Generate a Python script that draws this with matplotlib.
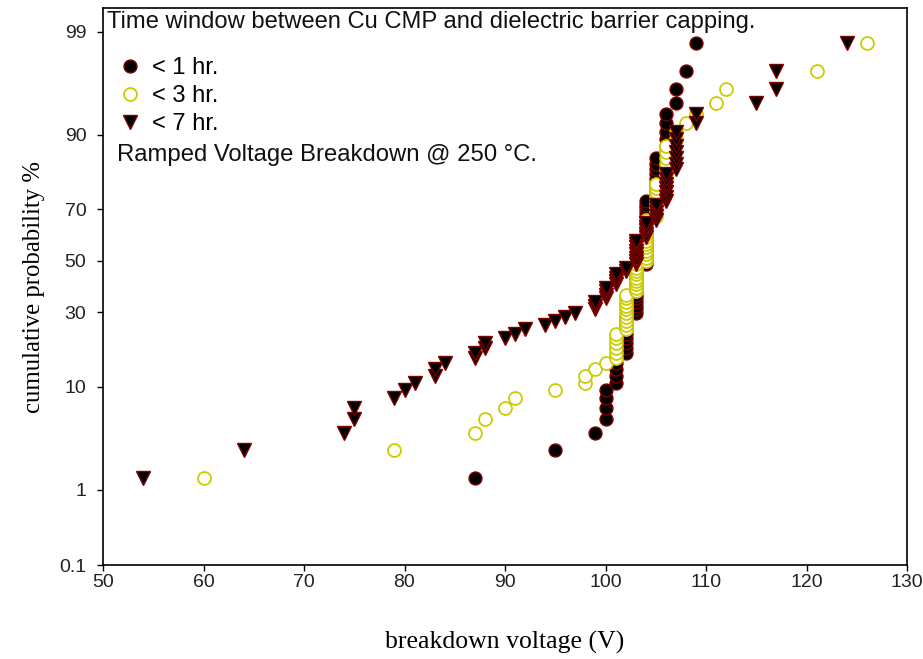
import math
import numpy as np
import matplotlib
matplotlib.use("Agg")
import matplotlib.pyplot as plt
from matplotlib.ticker import FixedLocator, FixedFormatter, NullLocator

# ---------------- data (breakdown voltages, V) ----------------
v_1hr = [87, 95, 99,
         100, 100, 100, 100,
         101, 101, 101, 101, 101,
         102, 102, 102, 102, 102, 102, 102, 102, 102,
         103, 103, 103, 103, 103, 103, 103, 103, 103, 103, 103, 103, 103, 103,
         104, 104, 104, 104, 104, 104, 104, 104, 104, 104, 104, 104, 104, 104, 104, 104, 104, 104, 104,
         105, 105, 105, 105, 105, 105, 105, 105, 105,
         106, 106, 106, 106, 106, 106,
         107, 107, 108, 109]
v_3hr = [60, 79, 87, 88, 90, 91, 95, 98, 98, 99, 100,
         101, 101, 101, 101, 101, 101,
         102, 102, 102, 102, 102, 102, 102, 102, 102, 102,
         103, 103, 103, 103, 103, 103, 103, 103, 103,
         104, 104, 104, 104, 104, 104, 104, 104, 104, 104, 104, 104, 104,
         105, 105, 105, 105, 105, 105, 105, 105, 105,
         106, 106, 106, 106, 106, 106, 106,
         107, 107, 108, 109, 111, 112, 121, 126]
v_7hr = [54, 64, 74, 75, 75, 79, 80, 81, 83, 83, 84, 87, 87, 88, 88, 90, 91, 92, 94, 95, 96, 97,
         99, 99, 99,
         100, 100, 100, 100,
         101, 101, 101, 101,
         102, 102,
         103, 103, 103, 103, 103, 103, 103, 103,
         104, 104, 104, 104, 104,
         105, 105, 105, 105, 105,
         106, 106, 106, 106, 106, 106, 106,
         107, 107, 107, 107, 107, 107, 107,
         109, 109, 115, 117, 117, 124]
labels = ["< 1 hr.", "< 3 hr.", "< 7 hr."]
x_ticks = [50, 60, 70, 80, 90, 100, 110, 120, 130]
y_ticks = [0.1, 1, 10, 30, 50, 70, 90, 99]
y_tick_labels = ["0.1", "1", "10", "30", "50", "70", "90", "99"]


# ---------------- normal-probability scale ----------------
def _ppf_scalar(q):
    q = min(max(q, 1e-12), 1 - 1e-12)
    a = [-3.969683028665376e+01, 2.209460984245205e+02, -2.759285104469687e+02,
         1.383577518672690e+02, -3.066479806614716e+01, 2.506628277459239e+00]
    b = [-5.447609879822406e+01, 1.615858368580409e+02, -1.556989798598866e+02,
         6.680131188771972e+01, -1.328068155288572e+01]
    c = [-7.784894002430293e-03, -3.223964580411365e-01, -2.400758277161838e+00,
         -2.549732539343734e+00, 4.374664141464968e+00, 2.938163982698783e+00]
    d = [7.784695709041462e-03, 3.224671290700398e-01, 2.445134137142996e+00,
         3.754408661907416e+00]
    plow = 0.02425
    if q < plow:
        t = math.sqrt(-2 * math.log(q))
        x = (((((c[0]*t + c[1])*t + c[2])*t + c[3])*t + c[4])*t + c[5]) / \
            ((((d[0]*t + d[1])*t + d[2])*t + d[3])*t + 1)
    elif q > 1 - plow:
        t = math.sqrt(-2 * math.log(1 - q))
        x = -(((((c[0]*t + c[1])*t + c[2])*t + c[3])*t + c[4])*t + c[5]) / \
            ((((d[0]*t + d[1])*t + d[2])*t + d[3])*t + 1)
    else:
        r = q - 0.5
        s = r * r
        x = (((((a[0]*s + a[1])*s + a[2])*s + a[3])*s + a[4])*s + a[5]) * r / \
            (((((b[0]*s + b[1])*s + b[2])*s + b[3])*s + b[4])*s + 1)
    # one Newton refinement
    e = 0.5 * math.erfc(-x / math.sqrt(2)) - q
    u = e * math.sqrt(2 * math.pi) * math.exp(x * x / 2)
    x = x - u / (1 + x * u / 2)
    return x


_ppf_vec = np.vectorize(_ppf_scalar, otypes=[float])
_cdf_vec = np.vectorize(lambda z: 0.5 * math.erfc(-z / math.sqrt(2)), otypes=[float])


def forward(p):
    p = np.asarray(p, dtype=float)
    return _ppf_vec(p / 100.0)


def inverse(z):
    z = np.asarray(z, dtype=float)
    return 100.0 * _cdf_vec(z)


# ---------------- figure ----------------
fig = plt.figure(figsize=(9.23, 6.59), dpi=100)
ax = fig.add_axes([103 / 923, 1 - 565 / 659, 804 / 923, 557 / 659])
ax.set_yscale("function", functions=(forward, inverse))

series = [v_1hr, v_3hr, v_7hr]
styles = [
    dict(marker="o", ms=9.3, mfc="black", mec="#800000", mew=1.0),
    dict(marker="o", ms=9.3, mfc="white", mec="#cccc00", mew=1.3),
    dict(marker="v", ms=10.5, mfc="black", mec="#800000", mew=1.0),
]
handles = []
for vals, st, lab in zip(series, styles, labels):
    v = np.sort(np.asarray(vals, dtype=float))
    n = len(v)
    prob = np.arange(1, n + 1) / (n + 1) * 100.0
    h, = ax.plot(v, prob, linestyle="none", label=lab, **st)
    handles.append(h)

ax.set_xlim(50, 130)
ax.set_ylim(0.1, 99.49)
ax.xaxis.set_major_locator(FixedLocator(x_ticks))
ax.yaxis.set_major_locator(FixedLocator(y_ticks))
ax.yaxis.set_major_formatter(FixedFormatter(y_tick_labels))
ax.yaxis.set_minor_locator(NullLocator())
ax.xaxis.set_minor_locator(NullLocator())

sans = ["Liberation Sans", "DejaVu Sans"]
serif = ["Liberation Serif", "DejaVu Serif"]

ax.tick_params(axis="both", direction="out", length=4.5, width=1.0, colors="black",
               labelsize=14, top=False, right=False)
ax.tick_params(axis="y", pad=7.5)
ax.tick_params(axis="x", pad=2)
for lbl in ax.get_xticklabels() + ax.get_yticklabels():
    lbl.set_fontfamily(sans)
    lbl.set_color("#222222")
for sp in ax.spines.values():
    sp.set_linewidth(1.2)
    sp.set_color("black")

ax.set_xlabel("breakdown voltage (V)", family=serif, fontsize=18.5, labelpad=29)
ax.set_ylabel("cumulative probability %", family=serif, fontsize=17.8, labelpad=10)

ax.text(0.005, 0.975, "Time window between Cu CMP and dielectric barrier capping.",
        transform=ax.transAxes, ha="left", va="center", fontsize=17.1, family=sans,
        color="#111111")
ax.text(0.0174, 0.736, "Ramped Voltage Breakdown @ 250 \u00b0C.",
        transform=ax.transAxes, ha="left", va="center", fontsize=17.2, family=sans,
        color="#111111")

leg = ax.legend(handles=handles, loc="upper left", bbox_to_anchor=(0.0187, 0.912),
                frameon=False, prop=dict(family=sans, size=17), handlelength=1.0,
                handletextpad=0.44, labelspacing=0.26, borderaxespad=0.0,
                borderpad=0.0, markerscale=1.0)

fig.savefig("out.png", dpi=100)
